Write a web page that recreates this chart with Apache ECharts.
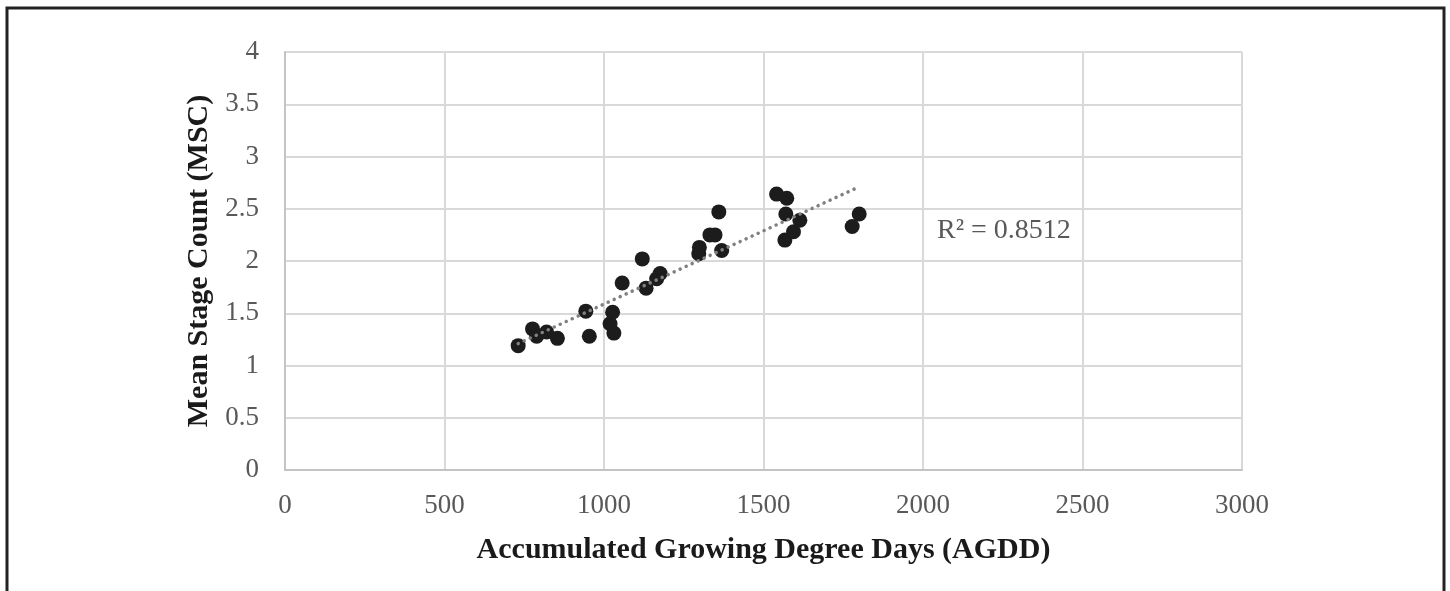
<!DOCTYPE html>
<html>
<head>
<meta charset="utf-8">
<script src="https://cdn.jsdelivr.net/npm/echarts@6/dist/echarts.min.js"></script>
<style>
  html, body { margin: 0; padding: 0; background: #fff; }
  #chart { width: 1450px; height: 591px; }
</style>
</head>
<body>
<div id="chart"></div>
<script>
// AGDD vs MSC
const agdd = [731, 776, 789, 820, 854, 943, 954, 1019, 1027, 1031, 1057, 1120, 1132, 1165, 1176,
  1297, 1299, 1332, 1348, 1360, 1369, 1541, 1567, 1570, 1573, 1594, 1614, 1778, 1800]
const msc = [1.19, 1.35, 1.28, 1.32, 1.26, 1.52, 1.28, 1.40, 1.51, 1.31, 1.79, 2.02, 1.74, 1.83, 1.88,
  2.07, 2.13, 2.25, 2.25, 2.47, 2.10, 2.64, 2.20, 2.45, 2.60, 2.28, 2.39, 2.33, 2.45]
// linear trendline end points
const trendX = [731, 1800]
const trendY = [1.21, 2.71]
const r2Text = 'R² = 0.8512'

const serif = '"Liberation Serif", "DejaVu Serif", serif'
const chart = echarts.init(document.getElementById('chart'))

chart.setOption({
  animation: false,
  backgroundColor: '#fff',
  grid: { left: 285, right: 208, top: 52, bottom: 121 },
  xAxis: {
    type: 'value', min: 0, max: 3000, interval: 500,
    name: 'Accumulated Growing Degree Days (AGDD)',
    nameLocation: 'middle', nameGap: 65,
    nameTextStyle: { fontFamily: serif, fontWeight: 'bold', fontSize: 30, color: '#1a1a1a' },
    axisLine: { show: true, lineStyle: { color: '#c4c4c4', width: 2 } },
    axisTick: { show: false },
    axisLabel: { fontFamily: serif, fontSize: 27, color: '#595959', margin: 22, formatter: v => String(v) },
    splitLine: { show: true, lineStyle: { color: '#d9d9d9', width: 2 } }
  },
  yAxis: {
    type: 'value', min: 0, max: 4, interval: 0.5,
    name: 'Mean Stage Count (MSC)',
    nameLocation: 'middle', nameGap: 67,
    nameTextStyle: { fontFamily: serif, fontWeight: 'bold', fontSize: 30, color: '#1a1a1a' },
    axisLine: { show: true, lineStyle: { color: '#c4c4c4', width: 2 } },
    axisTick: { show: false },
    axisLabel: { fontFamily: serif, fontSize: 27, color: '#595959', margin: 26 },
    splitLine: { show: true, lineStyle: { color: '#d9d9d9', width: 2 } }
  },
  series: [
    {
      type: 'scatter',
      data: agdd.map((x, i) => [x, msc[i]]),
      symbolSize: 15,
      itemStyle: { color: '#1c1c1c', opacity: 1 },
      z: 3
    },
    {
      type: 'line',
      data: trendX.map((x, i) => [x, trendY[i]]),
      showSymbol: false,
      lineStyle: { color: '#808080', width: 3.5, type: [0.1, 6.5], cap: 'round' },
      z: 4
    }
  ],
  graphic: [
    {
      type: 'polyline',
      shape: { points: [[7, 595], [7, 8], [1444, 8], [1444, 595]] },
      style: { stroke: '#222', lineWidth: 3, fill: null }
    },
    {
      type: 'text', left: 937, top: 217,
      style: { text: r2Text, font: '28px ' + serif, fill: '#595959' }
    }
  ]
})
</script>
</body>
</html>
